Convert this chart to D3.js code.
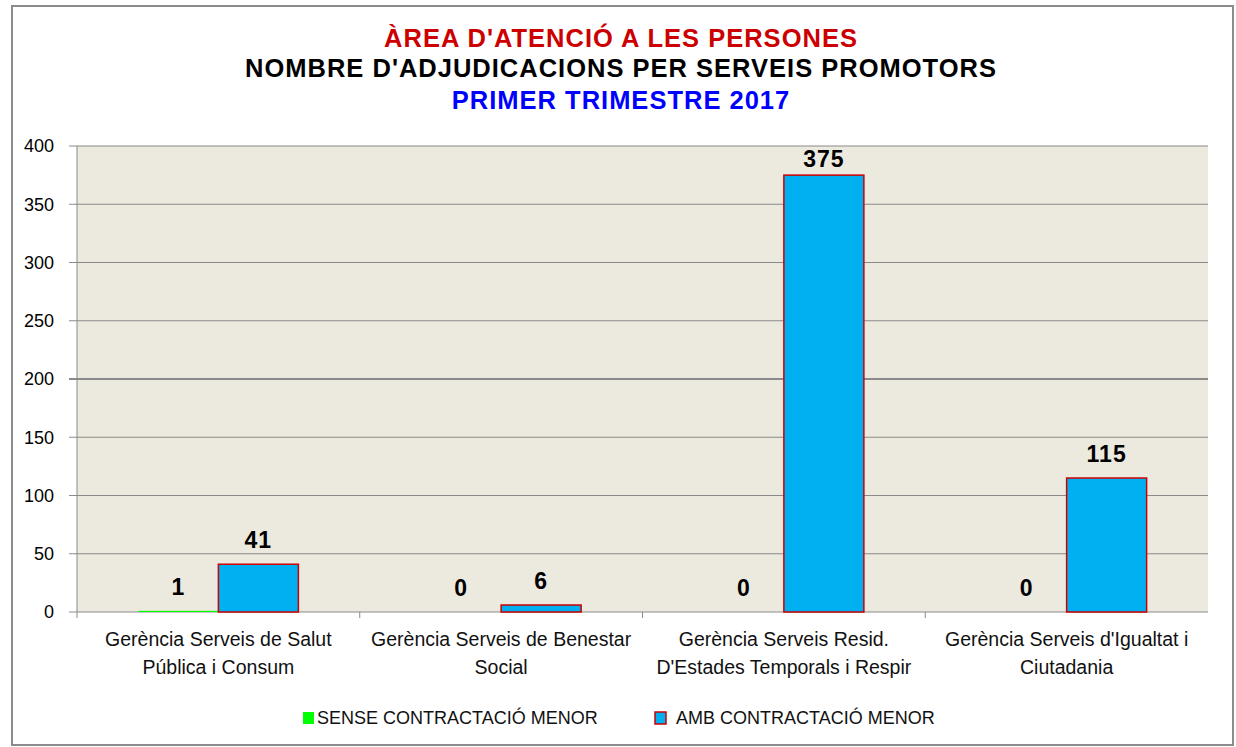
<!DOCTYPE html>
<html>
<head>
<meta charset="utf-8">
<title>Adjudicacions</title>
<script src="https://cdn.jsdelivr.net/npm/d3@7"></script>
<style>
  body { margin: 0; background: #fff; }
  text { font-family: "Liberation Sans", Arial, sans-serif; }
</style>
</head>
<body>
<div id="chart"></div>
<script>
// data
var categories = [
  ["Gerència Serveis de Salut", "Pública i Consum"],
  ["Gerència Serveis de Benestar", "Social"],
  ["Gerència Serveis Resid.", "D'Estades Temporals i Respir"],
  ["Gerència Serveis d'Igualtat i", "Ciutadania"]
];
var seriesNames = ["SENSE CONTRACTACIÓ MENOR", "AMB CONTRACTACIÓ MENOR"];
var senseValues = [1, 0, 0, 0];
var ambValues = [41, 6, 375, 115];
var yTicks = [0, 50, 100, 150, 200, 250, 300, 350, 400];
var titles = ["ÀREA D'ATENCIÓ A LES PERSONES", "NOMBRE D'ADJUDICACIONS PER SERVEIS PROMOTORS", "PRIMER TRIMESTRE 2017"];

var W = 1236, H = 747;
var plotL = 77, plotR = 1208, plotT = 146, plotB = 612;

var svg = d3.select("#chart").append("svg")
    .attr("width", W)
    .attr("height", H);

// outer frame
svg.append("rect")
    .attr("x", 12).attr("y", 6)
    .attr("width", 1221).attr("height", 739)
    .attr("fill", "#fff")
    .attr("stroke", "#8c8c8c")
    .attr("stroke-width", 2);

// titles
var titleColors = ["#cc0000", "#000000", "#0000ff"];
var titleY = [47, 77, 109];
svg.selectAll(".title")
    .data(titles).enter()
    .append("text")
    .attr("class", "title")
    .attr("x", 621)
    .attr("y", function(d, i) { return titleY[i]; })
    .attr("text-anchor", "middle")
    .attr("font-size", "25.5px")
    .attr("font-weight", "bold")
    .attr("letter-spacing", "1px")
    .attr("fill", function(d, i) { return titleColors[i]; })
    .text(function(d) { return d; });

var x = d3.scaleBand()
    .domain(d3.range(categories.length))
    .range([plotL, plotR]);

var y = d3.scaleLinear()
    .domain([0, 400])
    .range([plotB, plotT]);

// plot background
svg.append("rect")
    .attr("x", plotL).attr("y", plotT)
    .attr("width", plotR - plotL).attr("height", plotB - plotT)
    .attr("fill", "#ece9df");

// gridlines
svg.append("g")
    .selectAll("line")
    .data(yTicks).enter()
    .append("line")
    .attr("x1", plotL - 8)
    .attr("x2", plotR)
    .attr("y1", function(d) { return y(d); })
    .attr("y2", function(d) { return y(d); })
    .attr("stroke", "#8a8a8a")
    .attr("stroke-width", function(d) { return d == 200 ? 2 : 1; });

// y axis
var yAxis = d3.axisLeft(y).tickValues(yTicks).tickSize(0).tickPadding(23);
var gy = svg.append("g")
    .attr("transform", "translate(" + plotL + ",0)")
    .call(yAxis);
gy.select(".domain").remove();
gy.selectAll("text")
    .attr("font-size", "18px")
    .attr("fill", "#000")
    .style("font-family", "'Liberation Sans', Arial, sans-serif");

svg.append("line")
    .attr("x1", plotL).attr("x2", plotL)
    .attr("y1", plotT).attr("y2", plotB + 6)
    .attr("stroke", "#8a8a8a");

// x category ticks
svg.append("g")
    .selectAll("line")
    .data(d3.range(1, categories.length)).enter()
    .append("line")
    .attr("x1", function(d) { return x(d); })
    .attr("x2", function(d) { return x(d); })
    .attr("y1", plotB)
    .attr("y2", plotB + 6)
    .attr("stroke", "#8a8a8a");

// bars
var barW = 80;
var groups = svg.append("g").selectAll("g")
    .data(d3.range(categories.length)).enter()
    .append("g");

groups.append("rect")
    .attr("x", function(i) { return x(i) + x.bandwidth() / 2 - barW; })
    .attr("y", function(i) { return y(senseValues[i]); })
    .attr("width", barW)
    .attr("height", function(i) { return plotB - y(senseValues[i]); })
    .attr("fill", "#00ff00");

groups.append("rect")
    .attr("x", function(i) { return x(i) + x.bandwidth() / 2; })
    .attr("y", function(i) { return y(ambValues[i]); })
    .attr("width", barW)
    .attr("height", function(i) { return plotB - y(ambValues[i]); })
    .attr("fill", "#00b0f0")
    .attr("stroke", "#cc0000")
    .attr("stroke-width", 1.5);

// value labels (kept inside the plot area like Excel does)
function labelY(v) {
    return Math.max(y(v) - 16, plotT + 21);
}

groups.append("text")
    .attr("x", function(i) { return x(i) + x.bandwidth() / 2 - barW / 2; })
    .attr("y", function(i) { return labelY(senseValues[i]); })
    .attr("text-anchor", "middle")
    .attr("font-size", "23px")
    .attr("font-weight", "bold")
    .attr("letter-spacing", "1px")
    .text(function(i) { return senseValues[i]; });

groups.append("text")
    .attr("x", function(i) { return x(i) + x.bandwidth() / 2 + barW / 2; })
    .attr("y", function(i) { return labelY(ambValues[i]); })
    .attr("text-anchor", "middle")
    .attr("font-size", "23px")
    .attr("font-weight", "bold")
    .attr("letter-spacing", "1px")
    .text(function(i) { return ambValues[i]; });

// category labels
groups.each(function(i) {
    var t = d3.select(this).append("text")
        .attr("text-anchor", "middle")
        .attr("font-size", "19.5px")
        .attr("fill", "#111");
    categories[i].forEach(function(line, k) {
        t.append("tspan")
            .attr("x", x(i) + x.bandwidth() / 2)
            .attr("y", 646 + k * 28)
            .text(line);
    });
});

// legend
var legendX = [303, 655];
var colors = ["#00ff00", "#00b0f0"];
var legend = svg.append("g").selectAll("g")
    .data(seriesNames).enter()
    .append("g")
    .attr("transform", function(d, i) { return "translate(" + legendX[i] + ",712)"; });

legend.append("rect")
    .attr("width", 11).attr("height", 12)
    .attr("fill", function(d, i) { return colors[i]; })
    .attr("stroke", function(d, i) { return i == 1 ? "#cc0000" : "none"; })
    .attr("stroke-width", 1.5);

legend.append("text")
    .attr("x", function(d, i) { return i == 0 ? 14 : 21; })
    .attr("y", 12)
    .attr("font-size", "18px")
    .attr("fill", "#111")
    .text(function(d) { return d; });
</script>
</body>
</html>
